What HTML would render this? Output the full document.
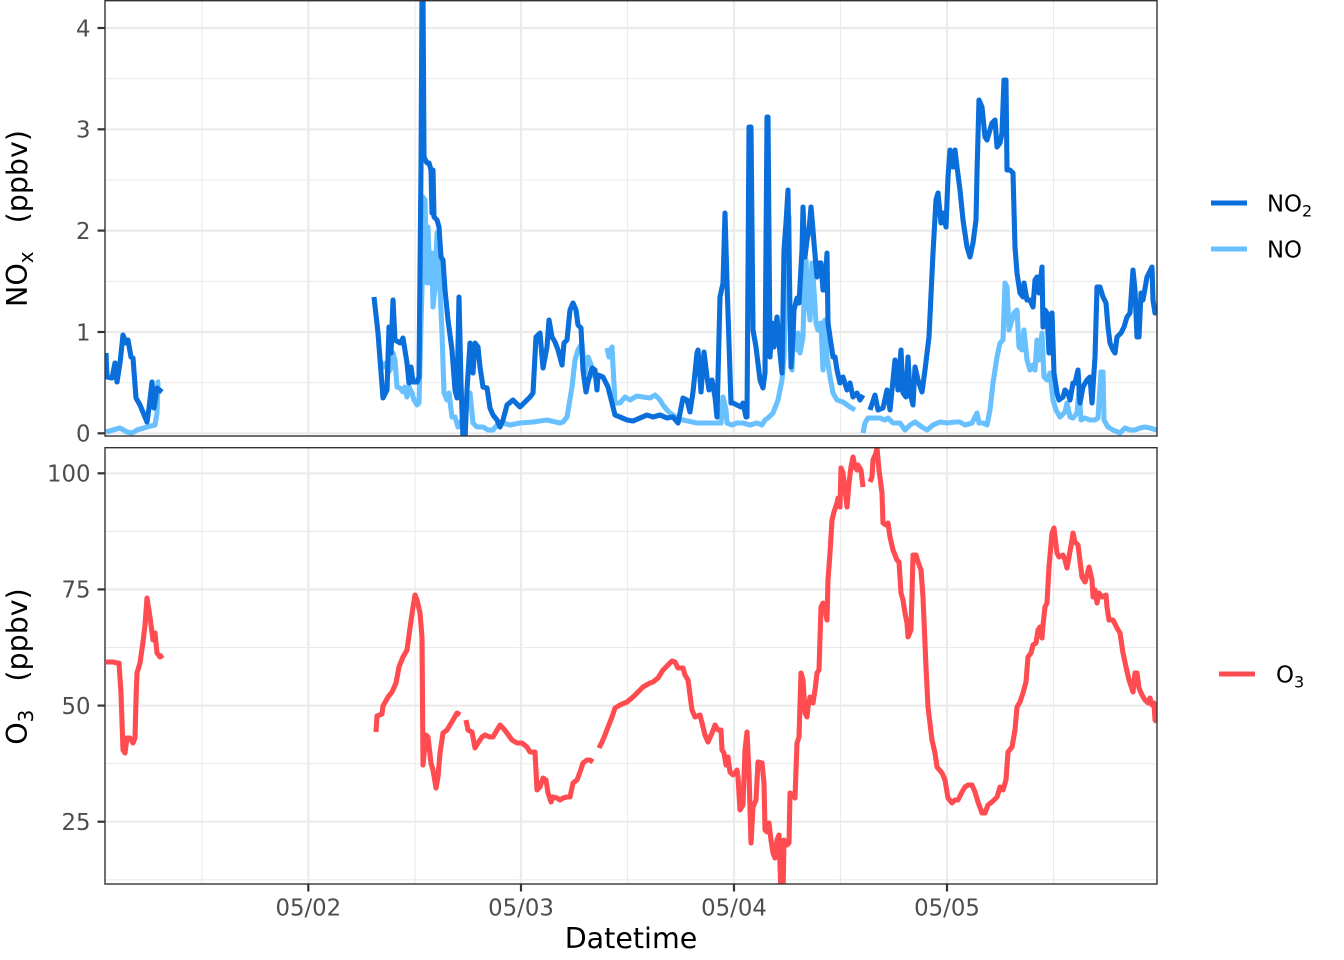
<!DOCTYPE html>
<html>
<head>
<meta charset="utf-8">
<style>
html,body{margin:0;padding:0;background:#fff;}
svg{display:block;font-family:"DejaVu Sans","Liberation Sans",sans-serif;}
.tk{font-size:22.8px;fill:#4D4D4D;}
.ti{font-size:28.5px;fill:#000;}
.lg{font-size:22.8px;fill:#000;}
.maj{stroke:#EBEBEB;stroke-width:2.2;}
.min{stroke:#EBEBEB;stroke-width:1.1;}
.ln{fill:none;stroke-width:5.1;stroke-linejoin:round;stroke-linecap:butt;}
.no2{stroke:#0A6EDB;}
.no{stroke:#69C0FF;}
.o3{stroke:#FF4C50;}
</style>
</head>
<body>
<svg width="1344" height="960" viewBox="0 0 1344 960" xmlns="http://www.w3.org/2000/svg">
<defs>
<clipPath id="c1"><rect x="105" y="0.5" width="1052" height="435.5"/></clipPath>
<clipPath id="c2"><rect x="105" y="447.5" width="1052" height="436.5"/></clipPath>
</defs>
<rect x="0" y="0" width="1344" height="960" fill="#fff"/>

<!-- TOP PANEL GRID -->
<g>
<line class="min" x1="105" x2="1157" y1="382.7" y2="382.7"/>
<line class="min" x1="105" x2="1157" y1="281.3" y2="281.3"/>
<line class="min" x1="105" x2="1157" y1="180" y2="180"/>
<line class="min" x1="105" x2="1157" y1="78.7" y2="78.7"/>
<line class="min" x1="202" x2="202" y1="0" y2="436"/>
<line class="min" x1="415" x2="415" y1="0" y2="436"/>
<line class="min" x1="627.5" x2="627.5" y1="0" y2="436"/>
<line class="min" x1="840.5" x2="840.5" y1="0" y2="436"/>
<line class="min" x1="1053.5" x2="1053.5" y1="0" y2="436"/>
<line class="maj" x1="105" x2="1157" y1="433.3" y2="433.3"/>
<line class="maj" x1="105" x2="1157" y1="332" y2="332"/>
<line class="maj" x1="105" x2="1157" y1="230.6" y2="230.6"/>
<line class="maj" x1="105" x2="1157" y1="129.3" y2="129.3"/>
<line class="maj" x1="105" x2="1157" y1="28" y2="28"/>
<line class="maj" x1="308.3" x2="308.3" y1="0" y2="436"/>
<line class="maj" x1="521" x2="521" y1="0" y2="436"/>
<line class="maj" x1="734" x2="734" y1="0" y2="436"/>
<line class="maj" x1="947" x2="947" y1="0" y2="436"/>
</g>

<!-- BOTTOM PANEL GRID -->
<g>
<line class="min" x1="105" x2="1157" y1="531.4" y2="531.4"/>
<line class="min" x1="105" x2="1157" y1="647.5" y2="647.5"/>
<line class="min" x1="105" x2="1157" y1="763.7" y2="763.7"/>
<line class="min" x1="105" x2="1157" y1="879.8" y2="879.8"/>
<line class="min" x1="202" x2="202" y1="447" y2="884"/>
<line class="min" x1="415" x2="415" y1="447" y2="884"/>
<line class="min" x1="627.5" x2="627.5" y1="447" y2="884"/>
<line class="min" x1="840.5" x2="840.5" y1="447" y2="884"/>
<line class="min" x1="1053.5" x2="1053.5" y1="447" y2="884"/>
<line class="maj" x1="105" x2="1157" y1="473.3" y2="473.3"/>
<line class="maj" x1="105" x2="1157" y1="589.4" y2="589.4"/>
<line class="maj" x1="105" x2="1157" y1="705.6" y2="705.6"/>
<line class="maj" x1="105" x2="1157" y1="821.7" y2="821.7"/>
<line class="maj" x1="308.3" x2="308.3" y1="447" y2="884"/>
<line class="maj" x1="521" x2="521" y1="447" y2="884"/>
<line class="maj" x1="734" x2="734" y1="447" y2="884"/>
<line class="maj" x1="947" x2="947" y1="447" y2="884"/>
</g>

<!-- TOP SERIES -->
<g clip-path="url(#c1)">
<polyline class="ln no" points="106,432 113,430 120,428 127,432 132,433 137,430 147,427 155,425 157,413 158,382 160,382"/>
<polyline class="ln no" points="380,360 383,367 386,363 388,373 392,367 393,353 395,360 397,387 400,388 403,392 405,387 407,397 409,387 412,393 414,400 417,405 419,403 422,287 423,197 425,200 427,283 428,227 430,283 432,253 433,307 435,287 437,233 439,267 442,333 444,393 447,400 449,393 452,417 455,417 458,427 462,420 465,420 468,393 470,393 473,423 477,427 483,427 488,430 493,430 497,425 503,423 510,425 520,423 533,422 547,420 560,423 563,422 567,417 572,387 575,360 578,350 582,343 585,373 588,357 592,367 593,378"/>
<polyline class="ln no" points="607,348 609,357 612,347 615,403 620,403 625,397 630,400 637,396 643,397 650,398 655,395 660,400 663,405 667,410 670,413 677,418 683,420 697,423 710,423 718,423 721,423 723,397 726,410 727,423 732,425 737,423 743,423 750,425 757,423 762,425 765,420 768,418 773,413 778,400 782,380 784,357 786,273 787,210 789,217 790,323 792,370 793,337 795,337 797,350 798,333 800,353 803,337 804,297 806,260 808,303 810,320 812,263 814,290 816,323 818,330 821,323 823,370 825,320 827,357 830,377 833,393 837,400 843,402 850,407 855,410"/>
<polyline class="ln no" points="863,433 865,423 868,418 875,418 880,418 885,420 888,418 893,423 900,423 905,430 910,425 915,422 922,427 927,430 933,425 940,422 947,423 955,422 960,422 965,425 972,423 977,413 979,423 983,423 987,425 990,410 993,383 997,357 1000,343 1003,340 1005,283 1007,287 1009,330 1012,320 1014,313 1017,310 1019,347 1022,350 1024,330 1027,360 1030,370 1033,365 1035,370 1037,340 1039,360 1042,333 1044,377 1047,380 1050,373 1053,400 1056,410 1060,417 1065,412 1067,403 1070,417 1073,418 1077,413 1079,390 1081,420 1085,418 1090,420 1095,420 1098,418 1101,372 1103,372 1104,420 1108,427 1113,430 1120,433 1125,428 1130,430 1135,430 1140,428 1145,427 1150,428 1157,430"/>

<polyline class="ln no2" points="106,353 107,377 112,378 115,363 117,382 120,363 123,335 126,343 128,340 131,357 133,358 136,398 140,405 147,422 149,408 152,382 154,408 157,388 162,392"/>
<polyline class="ln no2" points="374,297 378,333 383,398 387,390 389,327 391,353 393,300 395,340 400,343 403,338 407,363 409,383 411,367 413,382 417,382 419,377 421,167 422,-10 423,-10 424,157 427,163 429,163 431,170 432,213 433,170 434,217 437,220 439,227 441,257 443,260 445,290 448,320 452,350 455,390 457,398 459,297 461,383 463,440 465,440 467,390 470,343 473,373 475,343 478,347 480,367 483,387 487,388 490,408 493,415 497,420 500,427 503,420 507,405 513,400 520,407 527,400 530,397 533,393 536,337 540,333 543,368 547,347 549,320 552,337 555,342 558,350 562,365 564,343 567,340 570,310 573,303 576,310 578,325 581,328 583,370 586,392 588,382 592,368 595,370 597,390 598,375 603,377 608,387 613,407 615,415 620,417 627,420 633,421 640,418 647,415 653,417 660,415 667,418 673,417 678,423 683,398 687,400 690,412 693,392 697,353 698,350 701,392 704,352 707,377 709,390 712,380 715,397 717,417 720,297 723,283 725,213 727,283 729,343 731,403 733,403 737,405 741,407 743,403 746,417 747,417 749,127 751,127 753,330 756,347 760,380 763,388 765,373 767,117 768,117 770,357 772,323 774,347 777,317 779,343 782,373 784,250 786,223 788,190 789,257 791,367 793,337 794,310 797,298 799,303 802,250 803,207 805,257 807,240 809,230 811,207 813,230 814,243 817,277 818,263 821,263 823,290 825,290 827,253 828,323 830,337 833,357 835,357 837,370 840,383 843,377 847,390 850,383 853,397 857,393 860,400 863,395"/>
<polyline class="ln no2" points="870,410 875,395 878,410 883,408 887,390 890,410 895,360 898,390 901,350 903,393 906,397 908,357 910,393 913,405 915,367 918,380 922,392 925,370 929,337 933,253 936,200 938,193 941,223 943,213 946,227 948,177 950,150 953,167 955,150 957,167 960,190 963,220 967,247 970,257 973,243 976,220 977,173 979,100 982,107 985,137 987,140 992,123 995,120 997,147 1000,143 1002,133 1004,80 1006,80 1007,170 1010,170 1013,173 1015,247 1017,273 1020,293 1023,297 1024,283 1027,300 1030,300 1033,307 1035,280 1037,277 1039,293 1042,267 1043,327 1045,310 1047,313 1049,353 1052,313 1054,373 1057,393 1059,400 1063,397 1065,390 1068,393 1070,400 1073,383 1075,383 1078,370 1080,403 1083,387 1087,380 1090,377 1092,403 1095,357 1097,287 1100,287 1103,297 1106,303 1108,327 1110,343 1113,350 1115,353 1117,337 1121,333 1124,327 1127,317 1130,313 1133,270 1135,290 1137,337 1139,337 1141,293 1143,300 1147,277 1149,273 1152,267 1153,300 1155,313 1157,313"/>
</g>

<!-- BOTTOM SERIES -->
<g clip-path="url(#c2)">
<polyline class="ln o3" points="106,662 113,662 117,663 119,663 121,693 123,750 125,753 127,738 130,738 133,743 135,738 136,700 137,673 140,663 143,642 145,625 147,598 150,617 153,640 155,633 157,653 160,657 163,655"/>
<polyline class="ln o3" points="376,732 377,716 382,714 383,706 388,697 392,692 396,683 399,667 403,657 407,650 410,628 413,607 415,595 417,600 420,613 422,637 423,765 426,735 428,737 431,763 433,770 436,788 438,777 440,753 443,733 447,730 450,725 453,720 457,713 460,715"/>
<polyline class="ln o3" points="466,720 468,730 472,732 475,748 478,743 482,737 485,735 490,737 493,737 497,730 500,725 503,728 507,733 512,740 517,743 522,743 527,747 530,752 535,752 537,790 540,787 543,778 546,780 548,793 551,802 553,797 557,798 560,800 563,798 567,797 570,797 573,783 577,780 580,772 583,763 587,760 590,760 593,762"/>
<polyline class="ln o3" points="599,748 602,742 605,735 608,727 612,717 615,708 620,705 627,702 633,697 638,692 643,687 650,683 653,682 658,678 663,670 668,665 672,661 675,662 678,668 683,668 685,675 688,680 692,710 695,717 700,715 703,727 705,735 708,742 712,733 715,725 718,730 721,730 722,750 724,753 726,765 728,757 730,772 733,775 735,773 737,770 738,777 740,810 743,805 745,750 747,732 749,773 751,843 753,807 756,800 758,762 762,763 764,783 765,830 767,832 769,823 771,840 773,853 775,858 777,840 779,835 781,895 783,895 784,840 787,845 789,843 790,793 793,795 795,798 797,743 799,737 801,673 803,680 805,713 807,717 808,707 810,697 813,703 815,690 817,673 819,670 821,607 823,603 825,610 827,620 828,580 830,553 832,520 834,512 837,503 838,498 840,507 841,468 843,473 845,490 847,507 849,483 851,467 853,457 855,467 857,470 858,465 861,470 863,487"/>
<polyline class="ln o3" points="870,482 872,477 873,460 876,453 877,448 879,470 882,493 883,523 886,525 888,523 890,537 893,550 895,555 897,560 899,562 901,593 903,600 905,613 907,623 908,637 911,630 913,555 916,555 918,562 921,570 923,597 926,667 928,707 932,740 935,753 937,767 942,773 945,780 948,798 952,803 955,800 958,800 962,792 965,787 968,785 972,785 975,792 978,802 982,813 985,813 988,805 992,802 997,797 1000,787 1003,790 1006,780 1008,752 1012,747 1015,730 1017,707 1020,702 1023,693 1026,682 1028,657 1031,653 1033,645 1036,643 1038,630 1040,627 1042,638 1043,625 1045,607 1047,603 1049,567 1052,533 1054,528 1057,553 1059,557 1063,555 1065,560 1067,568 1069,557 1072,540 1073,533 1075,542 1078,545 1082,577 1085,582 1087,575 1089,567 1092,580 1093,597 1095,590 1097,603 1099,593 1102,597 1106,595 1107,607 1109,620 1113,620 1117,628 1120,633 1123,653 1126,667 1129,680 1133,692 1135,673 1137,673 1139,688 1142,695 1145,700 1148,703 1150,698 1152,705 1154,703 1155,720 1157,722"/>
</g>

<!-- PANEL BORDERS -->
<rect x="105" y="0.7" width="1052" height="435.3" fill="none" stroke="#333333" stroke-width="1.4"/>
<rect x="105" y="447.7" width="1052" height="436.3" fill="none" stroke="#333333" stroke-width="1.4"/>

<!-- TICKS -->
<g stroke="#333333" stroke-width="2.2">
<line x1="97.5" x2="105" y1="433.3" y2="433.3"/>
<line x1="97.5" x2="105" y1="332" y2="332"/>
<line x1="97.5" x2="105" y1="230.6" y2="230.6"/>
<line x1="97.5" x2="105" y1="129.3" y2="129.3"/>
<line x1="97.5" x2="105" y1="28" y2="28"/>
<line x1="97.5" x2="105" y1="473.3" y2="473.3"/>
<line x1="97.5" x2="105" y1="589.4" y2="589.4"/>
<line x1="97.5" x2="105" y1="705.6" y2="705.6"/>
<line x1="97.5" x2="105" y1="821.7" y2="821.7"/>
<line x1="308.3" x2="308.3" y1="884" y2="891.5"/>
<line x1="521" x2="521" y1="884" y2="891.5"/>
<line x1="734" x2="734" y1="884" y2="891.5"/>
<line x1="947" x2="947" y1="884" y2="891.5"/>
</g>

<!-- TICK LABELS -->
<g class="tk" text-anchor="end">
<text x="90.5" y="441.6">0</text>
<text x="90.5" y="340.3">1</text>
<text x="90.5" y="238.9">2</text>
<text x="90.5" y="137.6">3</text>
<text x="90.5" y="36.3">4</text>
<text x="90.5" y="481.6">100</text>
<text x="90.5" y="597.7">75</text>
<text x="90.5" y="713.9">50</text>
<text x="90.5" y="830">25</text>
</g>
<g class="tk" text-anchor="middle">
<text x="308.3" y="915.5">05/02</text>
<text x="521" y="915.5">05/03</text>
<text x="734" y="915.5">05/04</text>
<text x="947" y="915.5">05/05</text>
</g>

<!-- AXIS TITLES -->
<text class="ti" x="631" y="948" text-anchor="middle">Datetime</text>
<text class="ti" transform="translate(27,218.5) rotate(-90)" text-anchor="middle">NO<tspan font-size="20px" dy="6">x</tspan><tspan dy="-6" dx="28">(ppbv)</tspan></text>
<text class="ti" transform="translate(27,666.5) rotate(-90)" text-anchor="middle">O<tspan font-size="20px" dy="6">3</tspan><tspan dy="-6" dx="28">(ppbv)</tspan></text>

<!-- LEGENDS -->
<line x1="1211" x2="1247" y1="203" y2="203" stroke="#0A6EDB" stroke-width="5.1"/>
<text class="lg" x="1267" y="211.3">NO<tspan font-size="16px" dy="5">2</tspan></text>
<line x1="1211" x2="1247" y1="249" y2="249" stroke="#69C0FF" stroke-width="5.1"/>
<text class="lg" x="1267" y="257.3">NO</text>
<line x1="1219" x2="1255" y1="674" y2="674" stroke="#FF4C50" stroke-width="5.1"/>
<text class="lg" x="1276" y="682.3">O<tspan font-size="16px" dy="5">3</tspan></text>
</svg>
</body>
</html>
